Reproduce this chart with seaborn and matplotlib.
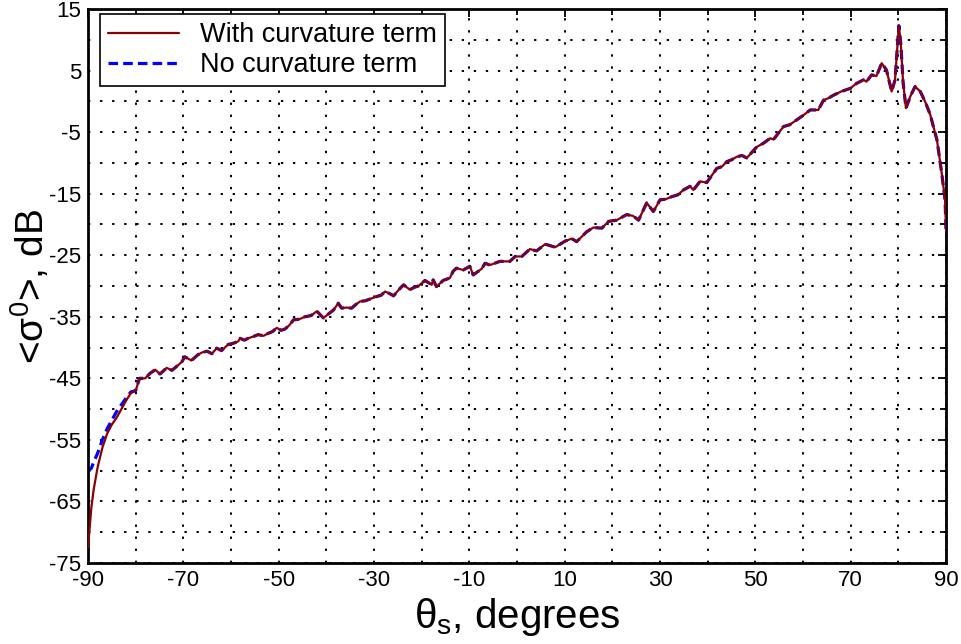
import numpy as np
import pandas as pd
import matplotlib
matplotlib.use("Agg")
import matplotlib.pyplot as plt
import seaborn as sns
from matplotlib.ticker import FixedLocator

theta = [-90.0, -89.3, -88.8, -88.0, -87.0, -86.0, -85.0, -84.0, -83.0, -82.0, -81.0,
         -80.0, -79.2, -78.0, -77.0, -75.9, -74.9, -73.5, -72.4, -71.0, -70.3,
         -69.7, -68.3, -67.0, -66.1, -65.0, -64.0, -63.0, -62.0, -60.6, -59.5,
         -58.5, -58.1, -57.2, -56.4, -55.3, -54.3, -53.2, -52.2, -51.3, -50.4,
         -49.5, -48.7, -47.8, -46.9, -45.7, -44.5, -43.2, -42.0, -40.6, -39.5,
         -38.5, -37.5, -36.8, -35.8, -34.7, -33.8, -32.9, -31.8, -30.8, -29.4,
         -28.5, -27.7, -26.8, -25.9, -24.8, -23.8, -22.5, -21.5, -20.7, -19.3,
         -17.9, -17.6, -16.9, -15.5, -14.1, -13.4, -12.7, -11.3, -9.9, -9.2,
         -7.4, -6.7, -5.7, -3.6, -1.5, -0.4, 1.0, 2.7, 4.1, 5.9,
         8.0, 10.1, 11.5, 12.5, 14.6, 16.0, 17.8, 19.2, 20.9, 23.0,
         24.3, 25.5, 27.2, 28.6, 30.0, 31.2, 32.4, 33.7, 34.9, 36.3,
         37.0, 38.4, 39.8, 40.9, 41.9, 43.0, 44.0, 45.0, 46.1, 47.2,
         48.2, 50.3, 51.7, 53.1, 53.8, 55.9, 57.2, 58.7, 60.0, 61.5,
         63.2, 64.3, 65.3, 66.4, 68.0, 69.9, 71.2, 72.7, 73.3, 74.4,
         75.4, 76.5, 77.5, 78.6, 79.3, 79.7, 80.1, 80.5, 81.0, 81.6,
         82.5, 83.5, 84.6, 85.7, 86.7, 88.1, 89.1, 89.8, 90.0]

sigma_with = [-72.5, -66.0, -63.0, -59.5, -56.3, -54.0, -52.5, -51.4, -50.0, -48.6, -47.4,
              -47.0, -45.0, -45.0, -44.2, -43.6, -44.3, -43.3, -43.7, -42.8, -42.3,
              -41.5, -42.1, -41.2, -40.8, -40.6, -41.0, -40.1, -40.5, -39.5, -39.3,
              -39.0, -38.5, -38.8, -38.5, -38.2, -37.9, -38.1, -37.7, -37.4, -36.8,
              -37.2, -37.0, -36.4, -35.5, -35.4, -35.0, -34.8, -34.1, -35.2, -34.5,
              -33.9, -32.8, -33.6, -33.5, -33.6, -33.0, -32.5, -32.4, -32.1, -31.7,
              -31.5, -30.9, -31.2, -31.6, -30.6, -29.8, -30.6, -30.2, -30.0, -29.1,
              -29.8, -29.0, -30.1, -29.1, -28.7, -27.6, -27.1, -27.4, -26.8, -28.2,
              -27.2, -26.3, -26.6, -26.0, -26.0, -25.2, -25.2, -24.0, -24.3, -23.2,
              -23.7, -22.7, -22.3, -22.8, -21.2, -20.5, -20.6, -19.5, -19.3, -18.4,
              -18.6, -19.3, -16.5, -17.9, -16.0, -15.9, -15.5, -15.2, -14.4, -13.8,
              -14.4, -13.0, -13.2, -12.0, -10.9, -10.6, -9.8, -9.5, -9.0, -8.8,
              -9.2, -7.4, -6.8, -6.0, -6.2, -4.1, -3.8, -3.0, -2.3, -1.4,
              -1.4, 0.2, 0.5, 1.0, 1.6, 2.1, 2.9, 3.5, 3.2, 4.3,
              4.1, 6.2, 5.1, 1.6, 3.5, 8.0, 12.3, 9.5, 3.0, -1.1,
              0.8, 2.4, 1.6, -0.2, -2.2, -6.3, -11.7, -16.0, -20.9]

# "No curvature term" differs only at the grazing end; the rest coincides
sigma_no_head = [-60.1, -59.6, -58.6, -57.2, -55.0, -53.2, -51.8, -50.4, -49.3, -48.2, -47.2]
sigma_no = sigma_no_head + sigma_with[len(sigma_no_head):]

x_ticks = [-90, -70, -50, -30, -10, 10, 30, 50, 70, 90]
y_ticks = [-75, -65, -55, -45, -35, -25, -15, -5, 5, 15]

df = pd.DataFrame({
    "theta": theta * 2,
    "sigma": sigma_with + sigma_no,
    "series": ["With curvature term"] * len(theta) + ["No curvature term"] * len(theta),
})

sns.set_style("white")
plt.rcParams["font.family"] = ["Liberation Sans", "DejaVu Sans"]
plt.rcParams["mathtext.fontset"] = "custom"
plt.rcParams["mathtext.rm"] = "Liberation Sans"
plt.rcParams["mathtext.it"] = "Liberation Sans"
plt.rcParams["mathtext.default"] = "regular"
plt.rcParams["text.color"] = "black"
plt.rcParams["axes.labelcolor"] = "black"
plt.rcParams["xtick.color"] = "black"
plt.rcParams["ytick.color"] = "black"

fig = plt.figure(figsize=(9.62, 6.44), dpi=100)
ax = fig.add_axes([0.0915, 0.1258, 0.8919, 0.8602])

sns.lineplot(data=df[df.series == "No curvature term"], x="theta", y="sigma",
             color="#0000ff", linewidth=2.3, linestyle=(0, (3, 1.6)), sort=False,
             ax=ax, zorder=2, label="No curvature term")
sns.lineplot(data=df[df.series == "With curvature term"], x="theta", y="sigma",
             color="#8b0000", linewidth=1.6, sort=False, ax=ax, zorder=3,
             label="With curvature term")

ax.set_xlim(-90, 90)
ax.set_ylim(-75, 15)
ax.xaxis.set_major_locator(FixedLocator(x_ticks))
ax.xaxis.set_minor_locator(FixedLocator([t + 10 for t in x_ticks[:-1]]))
ax.yaxis.set_major_locator(FixedLocator(y_ticks))
ax.yaxis.set_minor_locator(FixedLocator([t + 5 for t in y_ticks[:-1]]))
ax.set_xticklabels([str(t) for t in x_ticks])
ax.set_yticklabels([str(t) for t in y_ticks])

ax.tick_params(which="both", direction="in", top=True, right=True,
               labelsize=16, colors="black", labelcolor="black", width=1.3)
ax.tick_params(which="major", length=6, pad=5)
ax.tick_params(which="minor", length=4)
for s in ax.spines.values():
    s.set_linewidth(2.0)
    s.set_color("black")
    s.set_visible(True)

ax.grid(True, which="both", color="black", linestyle=(0, (1.2, 5)), linewidth=1.4)
ax.set_axisbelow(True)

ax.set_xlabel(r"θ$_s$, degrees", fontsize=29, labelpad=4, color="black")
ax.set_ylabel(r"<σ$^0$>, dB", fontsize=28, labelpad=-2, color="black")

h, l = ax.get_legend_handles_labels()
order = [l.index("With curvature term"), l.index("No curvature term")]
leg = ax.legend([h[i] for i in order], [l[i] for i in order], loc="upper left",
                bbox_to_anchor=(0.014, 0.991), fontsize=19.5, frameon=True, fancybox=False,
                edgecolor="black", framealpha=1, handlelength=2.6, handletextpad=0.8,
                borderpad=0.3, labelspacing=0.15, borderaxespad=0, labelcolor="black")
leg.get_frame().set_linewidth(1.2)

fig.savefig("out.png", dpi=100)
